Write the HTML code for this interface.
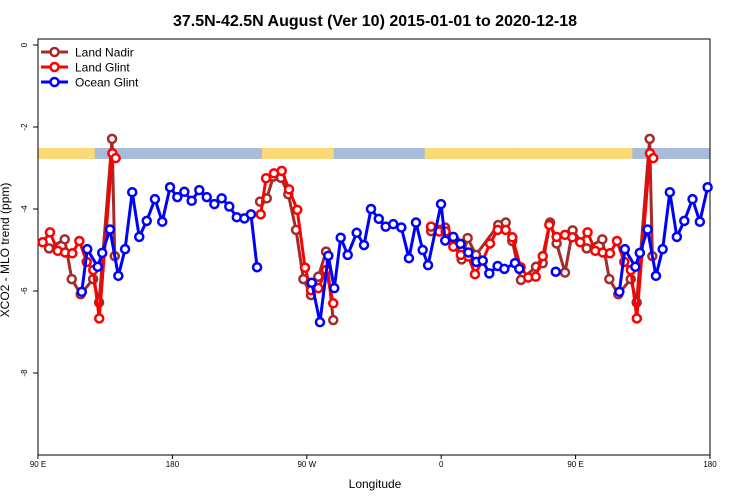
<!DOCTYPE html>
<html><head><meta charset="utf-8"><style>
body{margin:0;background:#fff;}
svg{display:block;font-family:"Liberation Sans",sans-serif;}
</style></head><body>
<svg id="chart" width="750" height="500" viewBox="0 0 750 500">
<text x="375" y="26" text-anchor="middle" font-size="16" font-weight="bold">37.5N-42.5N August (Ver 10)   2015-01-01 to 2020-12-18</text>
<text x="375" y="488" text-anchor="middle" font-size="12">Longitude</text>
<text transform="translate(9,250) rotate(-90)" text-anchor="middle" font-size="12">XCO2 - MLO trend (ppm)</text>
<g id="band"></g>
<g id="axes"></g>
<g id="series"></g>
<g id="legend"></g>
</svg>
<script>
const xTickVals=[90,180,270,360,450,540];
const xTickLabels=["90 E","180","90 W","0","90 E","180"];
const yTickVals=[0,-2,-4,-6,-8];
const landRanges=[[90,128],[240,288],[349,409],[409,486]];
const nadirLon=[97.4,107.9,112.6,118.6,126.9,130.9,139.6,141.4,238.7,243.2,247.6,252.7,257.6,262.8,267.7,272.8,277.7,282.9,287.7,353.2,358.5,362.6,369.2,373.7,377.7,383.3,398.2,403.2,407.6,413.4,423.5,428.0,432.9,437.3,442.9,448.0];
const nadirVal=[-4.96,-4.74,-5.71,-6.08,-5.71,-6.28,-2.29,-5.15,-3.82,-3.74,-3.21,-3.24,-3.64,-4.51,-5.71,-6.10,-5.65,-5.04,-6.71,-4.54,-4.51,-4.45,-4.76,-5.23,-4.71,-5.12,-4.39,-4.33,-4.78,-5.73,-5.41,-5.32,-4.33,-4.84,-5.55,-4.52];
const glintLon=[93.1,98.0,103.2,108.1,113.0,117.7,122.6,127.0,131.0,139.8,142.0,239.1,242.7,248.0,253.2,258.1,263.6,268.8,272.8,277.7,282.9,287.7,353.2,358.7,363.0,368.1,373.1,378.2,382.6,387.8,392.7,397.8,403.2,407.6,413.2,418.3,423.3,428.0,432.4,437.3,442.9,447.8];
const glintVal=[-4.81,-4.57,-5.02,-5.06,-5.08,-4.78,-5.29,-5.49,-6.67,-2.64,-2.76,-4.13,-3.25,-3.13,-3.07,-3.52,-4.02,-5.43,-5.98,-5.93,-5.49,-6.30,-4.43,-4.55,-4.55,-4.92,-5.12,-5.16,-5.59,-5.26,-4.84,-4.51,-4.51,-4.69,-5.42,-5.67,-5.65,-5.15,-4.39,-4.68,-4.63,-4.69];
const oceanLon=[119.3,123,130,133,138.2,143.8,148.3,153.1,157.8,162.8,168.3,173.2,178.4,183.3,188,192.9,198,203,208.1,213,218.1,223.1,228.2,232.6,236.7,273.3,278.8,284.4,288.4,292.7,297.4,303.4,308.3,313,318.2,322.8,327.9,333.3,338.4,343.1,347.6,351.2,359.9,362.7,368.1,372.9,378.2,383.5,387.8,392.2,397.8,402.3,409.4,412.3,436.7];
const oceanVal=[-6.02,-4.98,-5.41,-5.07,-4.50,-5.63,-4.98,-3.59,-4.68,-4.29,-3.76,-4.31,-3.47,-3.71,-3.58,-3.80,-3.54,-3.71,-3.88,-3.74,-3.94,-4.20,-4.23,-4.13,-5.42,-5.80,-6.76,-5.14,-5.93,-4.70,-5.12,-4.58,-4.88,-4.00,-4.24,-4.43,-4.37,-4.45,-5.20,-4.33,-5.00,-5.37,-3.88,-4.77,-4.68,-4.85,-5.06,-5.29,-5.26,-5.57,-5.39,-5.46,-5.32,-5.46,-5.53];

const X0=38,X1=710,Y0=455,YT=39;
const xS=l=>X0+(l-90)*(X1-X0)/450;
const yS=v=>45-v*41;
const NS="http://www.w3.org/2000/svg";
function mk(tag,attrs,parent){const e=document.createElementNS(NS,tag);for(const k in attrs)e.setAttribute(k,attrs[k]);parent.appendChild(e);return e;}
const band=document.getElementById('band'),axes=document.getElementById('axes'),series=document.getElementById('series'),legend=document.getElementById('legend');

let r=mk('rect',{x:X0,y:148,width:X1-X0,height:11,fill:'#a7bcd9'},band);


landRanges.forEach(([a,b])=>{for(const off of [0,360]){const s=Math.max(90,a+off),e=Math.min(540,b+off);if(e>s){const lr=mk('rect',{x:xS(s),y:148,width:xS(e)-xS(s),height:11,fill:'#fdd876'},band);

}}});

let bx=mk('rect',{x:X0,y:YT,width:X1-X0,height:Y0-YT,fill:'none',stroke:'#000','stroke-width':1},axes);


xTickVals.forEach((v,i)=>{mk('line',{x1:xS(v),x2:xS(v),y1:Y0,y2:Y0+4,stroke:'#000'},axes);
const t=mk('text',{x:xS(v),y:467,'text-anchor':'middle','font-size':8},axes);t.textContent=xTickLabels[i];

});
yTickVals.forEach(v=>{mk('line',{x1:X0-5,x2:X0,y1:yS(v),y2:yS(v),stroke:'#000'},axes);
const t=mk('text',{'text-anchor':'middle','font-size':8,transform:`translate(27,${yS(v)}) rotate(-90)`},axes);t.textContent=v;

});

function draw(lons,vals,color,name){
  let pts=[];lons.forEach((l,i)=>{[l,l+360].forEach(L=>{if(L>=90&&L<=540)pts.push([L,vals[i]]);});});
  pts.sort((a,b)=>a[0]-b[0]);
  const g=mk('g',{},series);
  
  
  let segs=[],cur=[];
  pts.forEach((p,i)=>{if(i>0&&p[0]-pts[i-1][0]>15){segs.push(cur);cur=[];}cur.push(p);});segs.push(cur);
  segs.forEach(s=>{if(s.length>1){const pl=mk('polyline',{points:s.map(p=>xS(p[0])+','+yS(p[1])).join(' '),fill:'none',stroke:color,'stroke-width':3,'stroke-linejoin':'round'},g);
  
  }});
  pts.forEach(p=>{const c=mk('circle',{cx:xS(p[0]),cy:yS(p[1]),r:4,fill:'#fff',stroke:color,'stroke-width':2.5},g);
  
  });
}
draw(nadirLon,nadirVal,'#a52a2a','land-nadir');
draw(glintLon,glintVal,'#ff0000','land-glint');
draw(oceanLon,oceanVal,'#0000ff','ocean-glint');

[['Land Nadir','#a52a2a'],['Land Glint','#ff0000'],['Ocean Glint','#0000ff']].forEach(([t,c],i)=>{
  const y=52+i*15;const g=mk('g',{},legend);
  
  
  mk('line',{x1:41,x2:68,y1:y,y2:y,stroke:c,'stroke-width':3},g);
  mk('circle',{cx:54.5,cy:y,r:4,fill:'#fff',stroke:c,'stroke-width':2.5},g);
  const tx=mk('text',{x:75,y:y+4.5,'font-size':12},g);tx.textContent=t;
});
</script>
</body></html>
